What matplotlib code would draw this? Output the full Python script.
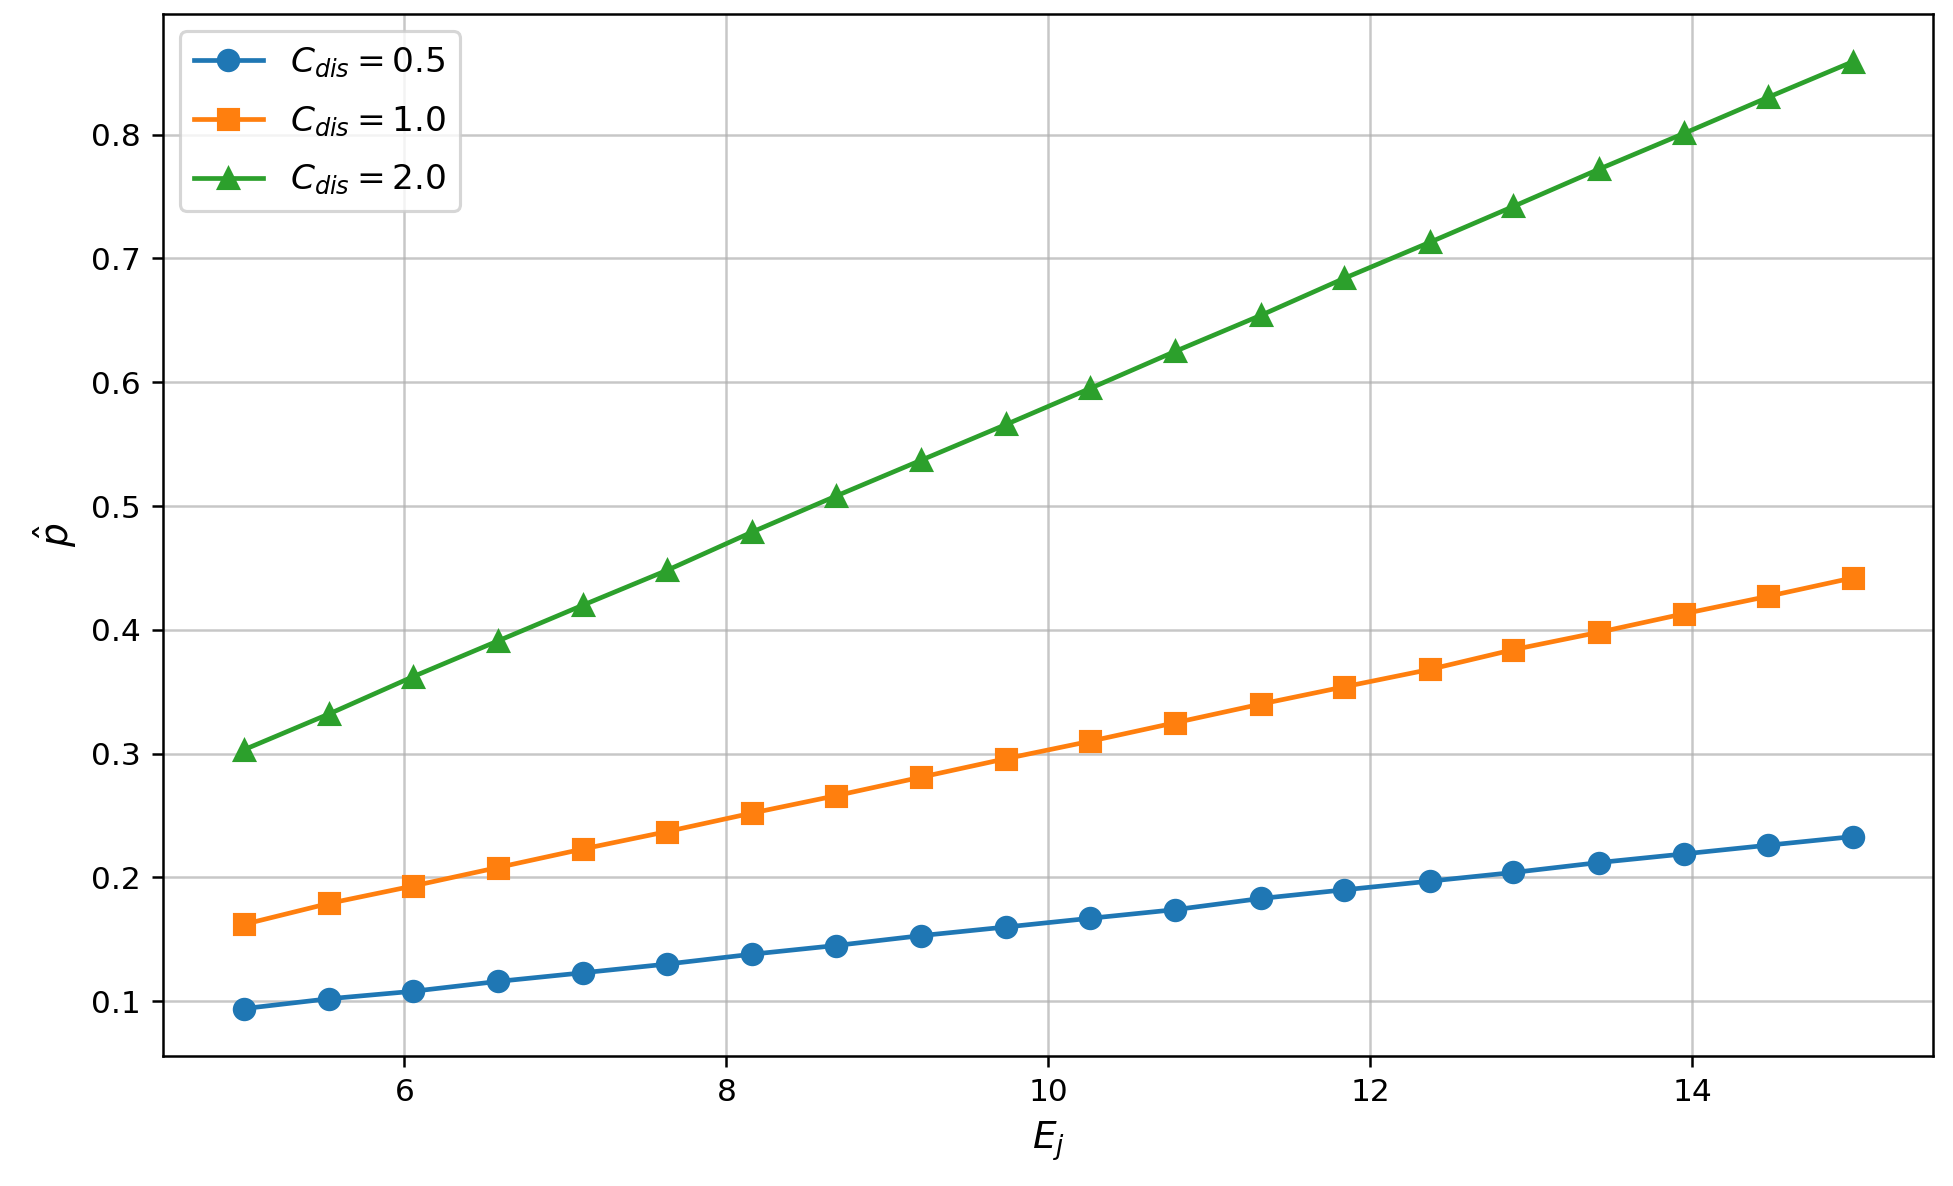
import matplotlib
matplotlib.use("Agg")
import matplotlib.pyplot as plt

# E_j values (20 points from 5 to 15)
E_j = [5.00, 5.53, 6.05, 6.58, 7.11, 7.63, 8.16, 8.68, 9.21, 9.74,
       10.26, 10.79, 11.32, 11.84, 12.37, 12.89, 13.42, 13.95, 14.47, 15.00]

p_05 = [0.094, 0.102, 0.108, 0.116, 0.123, 0.130, 0.138, 0.145, 0.153, 0.160,
        0.167, 0.174, 0.183, 0.190, 0.197, 0.204, 0.212, 0.219, 0.226, 0.233]
p_10 = [0.162, 0.179, 0.193, 0.208, 0.223, 0.237, 0.252, 0.266, 0.281, 0.296,
        0.310, 0.325, 0.340, 0.354, 0.368, 0.384, 0.398, 0.413, 0.427, 0.442]
p_20 = [0.303, 0.332, 0.362, 0.391, 0.420, 0.448, 0.479, 0.508, 0.537, 0.566,
        0.595, 0.625, 0.654, 0.684, 0.713, 0.742, 0.772, 0.801, 0.830, 0.859]

labels = [r'$C_{dis} = 0.5$', r'$C_{dis} = 1.0$', r'$C_{dis} = 2.0$']

dpi = 225
fig = plt.figure(figsize=(1953 / dpi, 1186 / dpi), dpi=dpi)
ax = fig.add_axes([0.0835, 0.1096, 0.9065, 0.8784])

ax.plot(E_j, p_05, marker='o', markersize=6.5, label=labels[0])
ax.plot(E_j, p_10, marker='s', markersize=6.5, label=labels[1])
ax.plot(E_j, p_20, marker='^', markersize=6.5, label=labels[2])

ax.set_xlabel(r'$E_j$', fontsize=12)
ax.set_ylabel(r'$\hat{p}$', fontsize=12)
ax.legend(loc='upper left', fontsize=11, labelspacing=0.7)
ax.grid(True, alpha=0.7)

fig.savefig('out.png', dpi=dpi)
